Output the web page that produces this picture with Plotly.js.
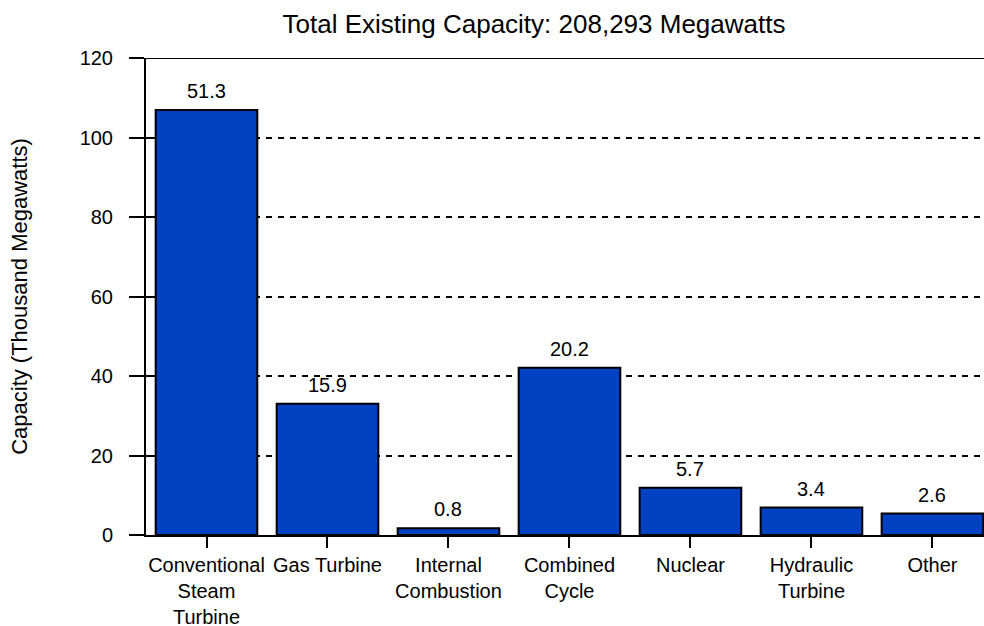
<!DOCTYPE html>
<html>
<head>
<meta charset="utf-8">
<script src="https://cdn.plot.ly/plotly-3.0.1.min.js"></script>
<style>html,body{margin:0;padding:0;background:#fff;overflow:hidden}#chart{width:984px;height:626px}</style>
</head>
<body>
<div id="chart"></div>
<script>
const categories = ["Conventional<br>Steam<br>Turbine", "Gas Turbine", "Internal<br>Combustion", "Combined<br>Cycle", "Nuclear", "Hydraulic<br>Turbine", "Other"];
const capacity = [106.9, 33.0, 1.7, 42.1, 11.9, 6.9, 5.4];
const sharePct = ["51.3", "15.9", "0.8", "20.2", "5.7", "3.4", "2.6"];
const yTicks = [0, 20, 40, 60, 80, 100, 120];

const FONT = "Liberation Sans, Arial, sans-serif";
const xIdx = categories.map((_, i) => i);

const trace = {
  type: "bar",
  x: xIdx,
  y: capacity,
  marker: {color: "#0041C2", line: {color: "#000", width: 2}},
  width: 0.84,
  hoverinfo: "skip"
};

const labelAnnotations = xIdx.map(i => ({
  x: i, y: capacity[i], xref: "x", yref: "y",
  text: sharePct[i], showarrow: false,
  yanchor: "bottom", yshift: 6,
  font: {family: FONT, size: 20, color: "#000"}
}));

const layout = {
  width: 984, height: 626,
  margin: {l: 146, r: 0, t: 58, b: 91},
  paper_bgcolor: "#fff", plot_bgcolor: "#fff",
  showlegend: false,
  font: {family: FONT, size: 20, color: "#000"},
  title: {text: "Total Existing Capacity: 208,293 Megawatts", font: {family: FONT, size: 26, color: "#000"},
          x: 534/984, xref: "container", xanchor: "center", y: 1 - 24/626, yref: "container", yanchor: "middle"},
  xaxis: {
    range: [-0.5, 6.426], tickvals: xIdx, ticktext: categories,
    showline: true, linecolor: "#000", linewidth: 2,
    ticks: "outside", ticklen: 11, tickwidth: 2, tickcolor: "#000",
    ticklabelstandoff: 0,
    showgrid: false, zeroline: false, fixedrange: true,
    tickfont: {family: FONT, size: 20, color: "#000"}
  },
  yaxis: {
    range: [0, 120], tickvals: yTicks,
    showline: true, linecolor: "#000", linewidth: 2,
    ticks: "outside", ticklen: 15, tickwidth: 2, tickcolor: "#000",
    ticklabelstandoff: 12,
    showgrid: true, gridcolor: "#000", gridwidth: 2, griddash: "6px,6px",
    zeroline: false, fixedrange: true,
    tickfont: {family: FONT, size: 20, color: "#000"},
    title: {text: "Capacity (Thousand Megawatts)", font: {family: FONT, size: 22, color: "#000"}, standoff: 46}
  },
  yaxis2: {
    range: [0, 120], tickvals: yTicks, overlaying: "y", side: "left", anchor: "x",
    showline: false, ticks: "inside", ticklen: 11, tickwidth: 2, tickcolor: "#000",
    showticklabels: false, showgrid: false, zeroline: false, fixedrange: true
  },
  annotations: labelAnnotations,
  shapes: [
    {type: "line", xref: "paper", yref: "y", x0: 0, x1: 1, y0: 120, y1: 120, line: {color: "#000", width: 2}}
  ]
};

const dummy = {type: "scatter", x: [0], y: [0], yaxis: "y2", mode: "markers", marker: {opacity: 0}, hoverinfo: "skip"};

Plotly.newPlot("chart", [trace, dummy], layout, {staticPlot: true, displayModeBar: false});
</script>
</body>
</html>
